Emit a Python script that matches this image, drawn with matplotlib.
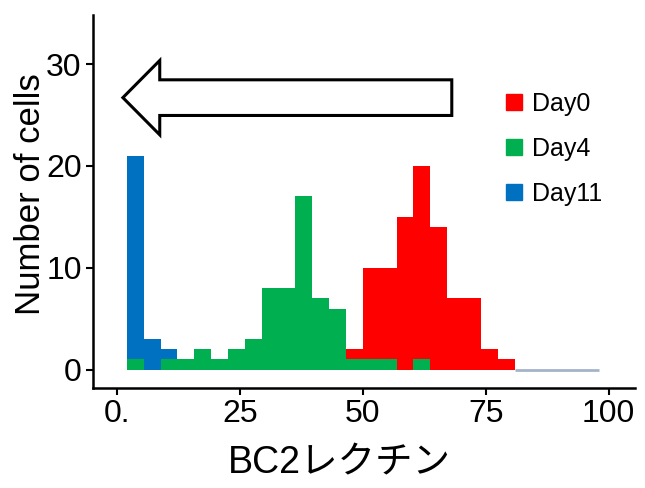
import numpy as np
import matplotlib
matplotlib.use('Agg')
import matplotlib.pyplot as plt
from matplotlib.patches import FancyArrow
from matplotlib.lines import Line2D

plt.rcParams['font.family'] = ['Liberation Sans', 'Noto Sans CJK JP']

# 28 bins between 2 and 98
edges = np.linspace(2, 98, 29)
day0 = [0, 0, 0, 0, 0, 0, 0, 0, 0, 0, 0, 0, 0, 2, 10, 10, 15, 20, 14, 7, 7, 2, 1, 0, 0, 0, 0, 0]
day4 = [1, 0, 1, 1, 2, 1, 2, 3, 8, 8, 17, 7, 6, 1, 1, 1, 0, 1, 0, 0, 0, 0, 0, 0, 0, 0, 0, 0]
day11 = [21, 3, 2, 0, 0, 0, 0, 0, 0, 0, 0, 0, 0, 0, 0, 0, 0, 0, 0, 0, 0, 0, 0, 0, 0, 0, 0, 0]
labels = ['Day0', 'Day4', 'Day11']
colors = ['#ff0000', '#00b050', '#0070c0']

fig = plt.figure(figsize=(6.45, 4.88), dpi=100)
ax = fig.add_axes([0.144, 0.205, 0.840, 0.764])

w = edges[1] - edges[0]
ax.bar(edges[:-1], day11, width=w, align='edge', color=colors[2], lw=0, zorder=1)
ax.bar(edges[:-1], day0, width=w, align='edge', color=colors[0], lw=0, zorder=2)
ax.bar(edges[:-1], day4, width=w, align='edge', color=colors[1], lw=0, zorder=3)
# empty tail of the histogram
ax.hlines(0, edges[23], edges[-1], color='#a3b4c9', lw=2, zorder=1)

ax.set_xlim(-4.9, 105.3)
ax.set_ylim(-1.8, 34.8)
ax.set_xticks([0, 25, 50, 75, 100])
ax.set_xticklabels(['0.', '25', '50', '75', '100'])
ax.set_yticks([0, 10, 20, 30])
ax.tick_params(labelsize=23, width=1.5, length=5, pad=3)

for s in ['top', 'right']:
    ax.spines[s].set_visible(False)
for s in ['left', 'bottom']:
    ax.spines[s].set_linewidth(1.8)

ax.set_ylabel('Number of cells', fontsize=25)
ax.yaxis.set_label_coords(-0.085, 0.52)
ax.set_xlabel('BC2レクチン', fontsize=27)
ax.xaxis.set_label_coords(0.455, -0.155)

arrow = FancyArrow(68.1, 26.7, -66.9, 0, width=3.5, head_width=7.3, head_length=7.5,
                   length_includes_head=True, fc='white', ec='black', lw=2.2, zorder=4)
ax.add_patch(arrow)

handles = [Line2D([], [], marker='s', color=c, linestyle='none', markersize=12) for c in colors]
ax.legend(handles, labels, loc='upper left', bbox_to_anchor=(0.72, 0.855), frameon=False,
          fontsize=18, handlelength=0.7, handletextpad=0.35, labelspacing=0.85)

fig.savefig('out.png', dpi=100)
